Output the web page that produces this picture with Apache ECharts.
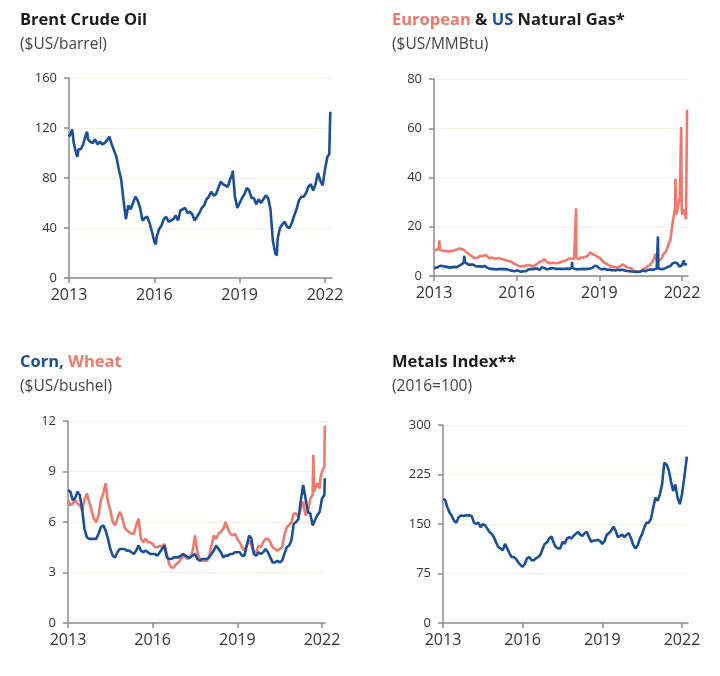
<!DOCTYPE html>
<html><head><meta charset="utf-8">
<script src="https://cdn.jsdelivr.net/npm/echarts@6/dist/echarts.min.js"></script>
<style>html,body{margin:0;padding:0;background:#fff}#c{width:720px;height:676px}</style>
</head><body><div id="c"></div>
<script>
// ---- tick labels / axes ----
const xTickYears = [2013, 2016, 2019, 2022];
const oilTicks = [0, 40, 80, 120, 160];
const gasTicks = [0, 20, 40, 60, 80];
const grainTicks = [0, 3, 6, 9, 12];
const metalTicks = [0, 75, 150, 225, 300];

// ---- monthly values, Jan 2013 .. Feb 2022 (110 months) ----
const oil = [
 113,117,108,100,103,103,107,114,111,109,108,111,
 107,109,107,108,110,113,107,102,97,87,79,62,
 47,58,55,60,65,62,56,46,48,49,44,37,
 29,33,39,42,47,49,45,46,47,50,46,54,
 55,56,52,53,51,46,49,52,56,58,63,65,
 69,66,67,72,77,75,74,73,79,84,65,56,
 60,64,67,72,70,64,64,59,63,60,63,66,
 64,55,30,20,31,40,43,45,41,40,44,50,
 55,62,65,65,68,73,75,70,75,84,78,74,
 87,97];
const oilExtra = [["2013-02-10",119],["2013-04-17",97],["2013-08-20",117],["2016-01-20",27],["2018-10-03",86],["2020-04-22",18],["2022-02-25",99],["2022-03-08",133]];

const gasEU = [
 10.5,10.6,11.0,10.4,10.2,10.2,10.0,10.0,10.2,10.5,10.8,11.2,
 11.0,10.6,9.8,9.0,8.3,7.6,7.2,7.4,8.2,8.0,8.4,8.3,
 7.2,7.5,7.2,7.0,7.3,7.0,6.8,6.5,6.2,6.0,5.6,4.9,
 4.5,4.0,3.9,4.0,4.3,4.5,4.3,4.0,4.3,5.0,5.8,6.0,
 6.8,5.8,5.2,5.3,5.4,5.2,5.3,5.6,6.0,6.1,6.6,7.2,
 7.0,7.0,7.4,6.8,7.5,7.5,7.8,8.2,9.6,9.0,8.5,8.0,
 7.5,6.5,5.5,5.0,4.5,3.8,3.8,3.5,3.5,3.9,4.7,4.2,
 3.6,3.2,3.0,2.2,1.6,1.8,1.9,2.8,3.1,4.0,4.4,5.6,
 7.5,6.0,6.2,7.2,8.9,10.0,12.5,15.0,22.0,28.0,27.0,32.0,
 25.0,27.0];
const gasEUExtra = [["2013-03-10",14.5],["2013-03-20",10.6],["2018-02-26",7.3],["2018-02-28",27.5],["2018-03-04",7.4],
 ["2021-01-10",9.0],["2021-10-06",39.5],["2021-10-14",25.0],["2021-12-21",60.5],["2021-12-28",28.0],["2022-02-24",23.0],["2022-03-07",67.5]];

const gasUS = [
 3.3,3.3,3.8,4.2,4.0,3.8,3.6,3.4,3.6,3.7,3.6,4.2,
 4.7,5.5,4.9,4.6,4.6,4.6,4.1,3.9,3.9,3.8,4.1,3.5,
 3.0,2.9,2.8,2.6,2.8,2.8,2.8,2.8,2.7,2.3,2.1,1.9,
 2.3,2.0,1.7,1.9,1.9,2.6,2.8,2.8,3.0,3.0,2.5,3.6,
 3.3,2.8,2.9,3.1,3.2,2.9,2.9,2.9,2.9,2.9,3.0,2.8,
 3.5,2.7,2.7,2.8,2.8,2.9,2.8,2.9,3.0,3.3,4.2,4.0,
 3.1,2.7,2.9,2.6,2.6,2.4,2.4,2.2,2.6,2.3,2.6,2.2,
 2.0,1.9,1.8,1.7,1.8,1.6,1.8,2.3,1.9,2.4,2.6,2.6,
 2.7,3.0,2.6,2.7,2.9,3.3,3.8,4.1,5.2,5.5,5.1,3.8,
 4.4,4.7];
const gasUSExtra = [["2014-02-05",8.2],["2014-02-12",7.5],["2014-02-20",5.5],["2018-01-05",5.8],["2018-01-10",3.2],
 ["2018-11-15",4.7],["2021-02-17",16.0],["2021-02-22",3.0],["2022-01-27",6.4],["2022-03-07",4.8]];

const corn = [
 7.9,7.8,7.3,7.4,7.8,7.6,6.8,5.6,5.1,5.0,5.0,5.0,
 5.0,5.3,5.7,5.8,5.5,5.0,4.4,4.0,3.9,4.2,4.4,4.4,
 4.4,4.3,4.3,4.2,4.1,4.3,4.6,4.3,4.2,4.3,4.2,4.1,
 4.1,4.1,4.0,4.2,4.4,4.6,3.9,3.8,3.8,3.9,3.9,3.9,
 4.0,4.1,4.0,3.9,3.9,4.0,4.1,3.8,3.7,3.8,3.8,3.8,
 3.9,4.1,4.3,4.6,4.4,4.2,3.9,4.0,4.0,4.1,4.1,4.2,
 4.2,4.2,4.0,4.0,4.6,5.2,5.0,4.1,4.0,4.2,4.1,4.2,
 4.4,4.2,3.9,3.6,3.6,3.7,3.6,3.7,4.1,4.5,4.6,4.9,
 5.9,6.0,6.2,7.3,8.2,7.4,6.6,6.5,5.8,6.1,6.4,6.6,
 7.4,7.6];
const cornExtra = [["2022-02-07",8.6]];

const wheat = [
 7.3,7.0,7.1,7.3,7.1,7.0,6.7,7.3,7.7,7.2,6.7,6.2,
 6.0,6.4,7.3,7.7,8.3,7.2,6.7,6.0,5.8,6.2,6.6,6.3,
 5.7,5.5,5.4,5.3,5.3,5.8,6.2,5.0,4.8,5.0,4.8,4.8,
 4.7,4.5,4.5,4.6,4.5,4.7,4.1,3.5,3.3,3.3,3.5,3.6,
 3.8,4.0,3.9,3.8,3.9,4.3,5.2,4.2,3.8,3.7,3.7,3.7,
 3.9,4.6,5.2,5.0,5.3,5.4,5.6,6.0,5.6,5.3,5.2,5.3,
 5.0,4.8,4.5,4.3,4.6,4.9,4.6,4.2,4.2,4.6,4.5,4.8,
 5.0,5.0,4.8,4.5,4.4,4.3,4.4,4.5,5.2,5.7,5.8,6.0,
 6.5,6.5,6.3,6.8,7.2,6.4,6.6,7.4,7.6,7.8,8.3,8.0,
 9.0,9.3];
const wheatExtra = [["2021-09-10",10.0],["2021-09-20",7.8],["2021-12-10",8.6],["2022-02-07",11.7]];

const metals = [
 188,186,175,167,162,155,152,160,163,162,163,163,
 163,162,152,150,152,145,150,148,143,138,135,130,
 122,115,113,110,120,113,106,100,100,97,92,88,
 85,90,98,100,95,95,98,100,103,112,120,122,
 128,131,122,115,113,113,123,120,128,130,128,132,
 135,138,134,132,136,138,130,123,125,125,126,124,
 120,124,134,136,140,146,140,130,132,134,130,134,
 136,128,118,113,118,128,135,145,152,152,158,175,
 190,185,195,210,243,240,232,215,200,210,190,180,
 195,220];
const metalsExtra = [["2022-03-07",252]];

// ---- helpers ----
const months = [];
for (let i = 0; i < oil.length; i++) {
  const y = 2013 + Math.floor(i / 12), m = i % 12 + 1;
  months.push(y + '-' + String(m).padStart(2, '0') + '-01');
}
function toYear(s) { const p = s.split('-').map(Number); return p[0] + (p[1] - 1) / 12 + (p[2] - 1) / 365; }
function build(values, extra) {
  const pts = months.map((d, i) => [toYear(d), values[i]]);
  extra.forEach(e => pts.push([toYear(e[0]), e[1]]));
  pts.sort((a, b) => a[0] - b[0]);
  return pts;
}

const BLUE = '#1b4f98', RED = '#f2786b', DARK = '#1c1c1c', GREY = '#444';
const TFONT = 'Open Sans';
const FONT = 'Open Sans';

const grids = [
  {left: 69, top: 78, width: 263, height: 200, xmax: 2022.246},
  {left: 434, top: 79, width: 254, height: 197, xmax: 2022.218},
  {left: 68, top: 421, width: 257, height: 202, xmax: 2022.106},
  {left: 443, top: 425, width: 245, height: 198, xmax: 2022.226}
];
const yTicks = [oilTicks, gasTicks, grainTicks, metalTicks];

const option = {
  animation: false,
  backgroundColor: '#fff',
  title: [
    {text: 'Brent Crude Oil', subtext: '($US/barrel)', left: 20, top: 12},
    {text: '{r|European} & {b|US} Natural Gas*', subtext: '($US/MMBtu)', left: 392, top: 12},
    {text: '{b|Corn,} {r|Wheat}', subtext: '($US/bushel)', left: 20, top: 354},
    {text: 'Metals Index**', subtext: '(2016=100)', left: 392, top: 354}
  ].map(t => Object.assign(t, {
    padding: 0, itemGap: 8,
    textStyle: {fontFamily: TFONT, fontWeight: 'bold', fontSize: 16.5, color: DARK,
      rich: {r: {color: RED, fontFamily: TFONT, fontWeight: 'bold', fontSize: 16.5},
             b: {color: BLUE, fontFamily: TFONT, fontWeight: 'bold', fontSize: 16.5}}},
    subtextStyle: {fontFamily: TFONT, fontSize: 15.5, color: GREY}
  })),
  grid: grids.map(g => ({left: g.left, top: g.top, width: g.width, height: g.height})),
  xAxis: grids.map((g, i) => ({
    type: 'value', gridIndex: i, min: 2013, max: g.xmax,
    axisLine: {show: true, lineStyle: {color: '#8c8c8c', width: 1.5}},
    axisTick: {show: true, length: 5, customValues: xTickYears, lineStyle: {color: '#8c8c8c', width: 1.5}},
    axisLabel: {customValues: xTickYears, fontFamily: FONT, fontSize: 16, color: '#333', margin: 9,
      formatter: v => String(Math.round(v))},
    splitLine: {show: false}
  })),
  yAxis: yTicks.map((t, i) => ({
    type: 'value', gridIndex: i, min: t[0], max: t[t.length - 1], interval: t[1] - t[0],
    axisLine: {show: true, lineStyle: {color: '#8c8c8c', width: 1.5}},
    axisTick: {show: true, length: 5, lineStyle: {color: '#8c8c8c', width: 1.5}},
    axisLabel: {fontFamily: FONT, fontSize: 13, color: '#333', margin: 12},
    splitLine: {show: true, lineStyle: {color: '#f1f1ea', width: 1}}
  })),
  series: [
    {data: build(oil, oilExtra), x: 0, c: BLUE},
    {data: build(gasEU, gasEUExtra), x: 1, c: RED},
    {data: build(gasUS, gasUSExtra), x: 1, c: BLUE},
    {data: build(wheat, wheatExtra), x: 2, c: RED},
    {data: build(corn, cornExtra), x: 2, c: BLUE},
    {data: build(metals, metalsExtra), x: 3, c: BLUE}
  ].map(s => ({
    type: 'line', xAxisIndex: s.x, yAxisIndex: s.x, data: s.data, showSymbol: false,
    lineStyle: {color: s.c, width: 2.6}, itemStyle: {color: s.c}, silent: true
  }))
};
echarts.init(document.getElementById('c')).setOption(option);
</script></body></html>
